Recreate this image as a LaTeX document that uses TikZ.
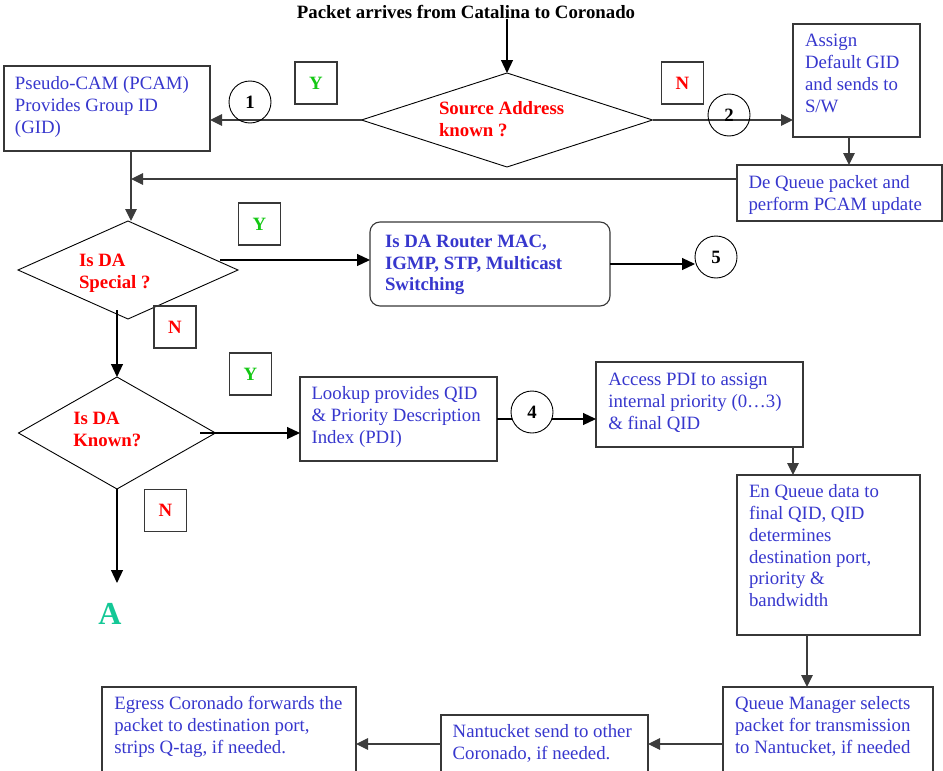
\documentclass[tikz,border=0pt]{standalone}
\usepackage{fontspec}
\setmainfont{Liberation Serif}
\usetikzlibrary{shapes.geometric,arrows.meta}
\definecolor{txtblue}{RGB}{55,55,205}
\definecolor{ynred}{RGB}{255,0,0}
\definecolor{ygreen}{RGB}{20,200,20}
\definecolor{ateal}{RGB}{20,200,150}
\definecolor{edgegray}{RGB}{55,55,55}
\definecolor{lineg}{RGB}{60,60,60}
\begin{document}
\begin{tikzpicture}[x=1pt,y=-1pt,
  every node/.style={inner sep=0pt, outer sep=0pt},
  f/.style={font=\fontsize{18.8}{21.8}\selectfont},
  fb/.style={font=\fontsize{18.8}{21.8}\selectfont\bfseries},
  txt/.style={f, text=txtblue, align=left, anchor=north west},
  btxt/.style={fb, text=txtblue, align=left, anchor=north west},
  qtxt/.style={fb, text=ynred, align=left, anchor=north west},
  box/.style={draw=edgegray, line width=1.1pt, anchor=north west},
  dia/.style={diamond, draw=black, line width=0.9pt},
  num/.style={circle, draw=black, line width=0.9pt, minimum size=42pt, fb},
  yn/.style={draw=edgegray, line width=1.1pt, minimum size=42pt, fb},
  arr/.style={draw=black, line width=1.2pt, -{Triangle[length=13pt,width=12pt]}},
  arrg/.style={draw=lineg, line width=1.1pt, -{Triangle[length=12pt,width=11.5pt]}}
]
\useasboundingbox (0,0) rectangle (943,771);

% title
\node[fb, anchor=base] (title) at (466,18.5) {Packet arrives from Catalina to Coronado};

% boxes
\node[box, minimum width=206pt, minimum height=85pt] (pcam) at (4,66) {};
\node[box, minimum width=127pt, minimum height=113pt] (assign) at (793,24) {};
\node[box, minimum width=205pt, minimum height=56pt] (deq) at (737,165) {};
\node[box, rounded corners=10pt, minimum width=240pt, minimum height=84pt] (rbox) at (370,222) {};
\node[box, minimum width=197pt, minimum height=84pt] (lookup) at (300,377) {};
\node[box, minimum width=207pt, minimum height=85pt] (access) at (596,362) {};
\node[box, minimum width=183pt, minimum height=160pt] (enq) at (737,475) {};
\node[box, minimum width=210pt, minimum height=120pt] (qm) at (723,687) {};
\node[box, minimum width=207pt, minimum height=100pt] (nant) at (441,715) {};
\node[box, minimum width=254pt, minimum height=120pt] (egress) at (102,687) {};

% diamonds
\node[dia, minimum width=291pt, minimum height=94pt] (d1) at (507,120) {};
\node[dia, minimum width=220pt, minimum height=98pt] (d2) at (128,270) {};
\node[dia, minimum width=197pt, minimum height=112pt] (d3) at (117,433) {};

% texts
\node[txt] (pcamt) at (15,74.7) {\strut Pseudo-CAM (PCAM)\\Provides Group ID\\(GID)};
\node[qtxt] (d1t) at (439,99.7) {\strut Source Address\\known ?};
\node[txt] (assignt) at (805,31.4) {\strut Assign\\Default GID\\and sends to\\S/W};
\node[txt] (deqt) at (748.5,173) {\strut De Queue packet and\\perform PCAM update};
\node[qtxt] (d2t) at (79,251.4) {\strut Is DA\\Special ?};
\node[btxt] (rboxt) at (385,232) {\strut Is DA Router MAC,\\IGMP, STP, Multicast\\Switching};
\node[qtxt] (d3t) at (73.3,409.7) {\strut Is DA\\Known?};
\node[txt] (lookupt) at (311.5,384.7) {\strut Lookup provides QID\\\& Priority Description\\Index (PDI)};
\node[txt] (accesst) at (608.3,370.7) {\strut Access PDI to assign\\internal priority (0\ldots3)\\\& final QID};
\node[txt] (enqt) at (749,482.4) {\strut En Queue data to\\final QID, QID\\determines\\destination port,\\priority \&\\bandwidth};
\node[txt] (egresst) at (114.3,694.7) {\strut Egress Coronado forwards the\\packet to destination port,\\strips Q-tag, if needed.};
\node[txt] (nantt) at (452.7,722) {\strut Nantucket send to other\\Coronado, if needed.};
\node[txt] (qmt) at (735,694.7) {\strut Queue Manager selects\\packet for transmission\\to Nantucket, if needed};

% Y / N markers
\node[yn, text=ygreen] (y1) at (316,83) {Y};
\node[yn, text=ynred] (n1) at (682.5,83) {N};
\node[yn, text=ygreen] (y2) at (259.5,224) {Y};
\node[yn, text=ynred] (n2) at (175,327) {N};
\node[yn, text=ygreen] (y3) at (250.5,374) {Y};
\node[yn, text=ynred] (n3) at (165.5,510.5) {N};

% A connector label
\node[font=\fontsize{32}{36}\selectfont\bfseries, text=ateal, anchor=base] (A) at (110,624) {A};

% helper coordinates
\coordinate (j1) at (131,179);
\coordinate (s2) at (220,260);
\coordinate (s3) at (117,310);
\coordinate (s4) at (200,433);
\coordinate (aend) at (117,583);
\coordinate (y744) at (0,744);

% connectors
\draw[arr] (title.south -| d1.north) -- (d1.north);
\draw[arrg] (d1.west) -- (d1.west -| pcam.east);
\draw[arrg] (d1.east) -- (d1.east -| assign.west);
\draw[arrg] ([xshift=-7.5pt]assign.south) -- ([xshift=-7.5pt]assign.south |- deq.north);
\draw[arrg] (deq.west |- j1) -- (j1);
\draw[arrg] (pcam.south -| j1) -- (j1 |- d2.north);
\draw[arr] (s2) -- (s2 -| rbox.west);
\draw[arr] (s3) -- (d3.north);
\draw[arr] (s4) -- (s4 -| lookup.west);
\draw[arr] (d3.south) -- (aend);
\draw[arrg] ([xshift=-10pt]access.south east) -- ([xshift=-10pt]access.south east |- enq.north);
\draw[arrg] ([xshift=-21.5pt]enq.south) -- ([xshift=-21.5pt]enq.south |- qm.north);
\draw[arrg] (qm.west |- y744) -- (nant.east |- y744);
\draw[arrg] (nant.west |- y744) -- (egress.east |- y744);
\draw[arr] (lookup.east) -- (lookup.east -| access.west);

% numbered circles
\node[num] (c1) at (250,102) {1};
\node[num] (c2) at (729,115) {2};
\node[num, fill=white] (c4) at (532,412) {4};
\node[num, fill=white] (c5) at (716,257) {5};
\draw[arr] (rbox.east) -- (rbox.east -| c5.west);
\end{tikzpicture}
\end{document}
